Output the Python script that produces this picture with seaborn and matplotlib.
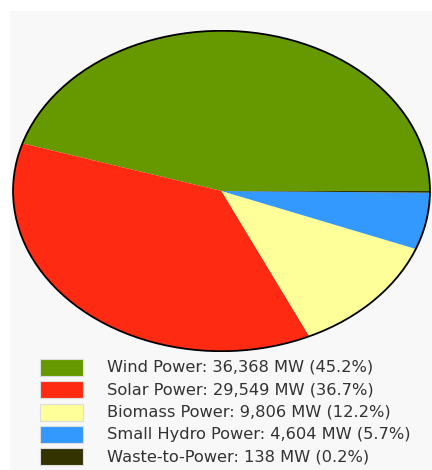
import matplotlib
matplotlib.use("Agg")
import matplotlib.pyplot as plt
import matplotlib.patches as mpatches
import seaborn as sns

sns.set_theme(style="white")
plt.rcParams['font.family'] = ['DejaVu Sans', 'Liberation Sans']

sources = ["Wind Power", "Solar Power", "Biomass Power", "Small Hydro Power", "Waste-to-Power"]
capacity_mw = [36368, 29549, 9806, 4604, 138]
share_pct = [45.2, 36.7, 12.2, 5.7, 0.2]
colors = ["#669900", "#FF2A12", "#FFFF99", "#3399FF", "#333300"]

W, H = 432, 470
fig = plt.figure(figsize=(W / 100, H / 100), dpi=100)
fig.patch.set_facecolor("white")

# light grey panel behind everything
fig.patches.append(mpatches.Rectangle((10 / W, 0), 1 - 10 / W, 1 - 11 / H,
                                      transform=fig.transFigure, facecolor="#f8f8f8",
                                      edgecolor="none", zorder=-5))

# pie stretched into an ellipse
ax = fig.add_axes([12 / W, 1 - 352 / H, 419 / W, 322 / H])
ax.set_zorder(2)
ax.pie(capacity_mw, colors=colors, startangle=0, counterclock=True,
       wedgeprops=dict(linewidth=0))
ax.set_aspect("auto")
ax.set_xlim(-1.005, 1.005)
ax.set_ylim(-1.005, 1.005)
ax.add_patch(mpatches.Circle((0, 0), 1.0, fill=False, edgecolor="black", lw=1.3))
ax.axis("off")

# legend
top0 = 359
step = 22.3
for i, (name, mw, pct, c) in enumerate(zip(sources, capacity_mw, share_pct, colors)):
    y = top0 + i * step
    fig.patches.append(mpatches.Rectangle((40 / W, 1 - (y + 17) / H), 43 / W, 17 / H,
                                          transform=fig.transFigure, facecolor=c,
                                          edgecolor="#dddddd", lw=0.8, zorder=2))
    fig.text(107 / W, 1 - (y + 8.5) / H, f"{name}: {mw:,} MW ({pct}%)",
             fontsize=11.7, color="#333333", va="center", ha="left")

fig.savefig("out.png", dpi=100, facecolor="white")
